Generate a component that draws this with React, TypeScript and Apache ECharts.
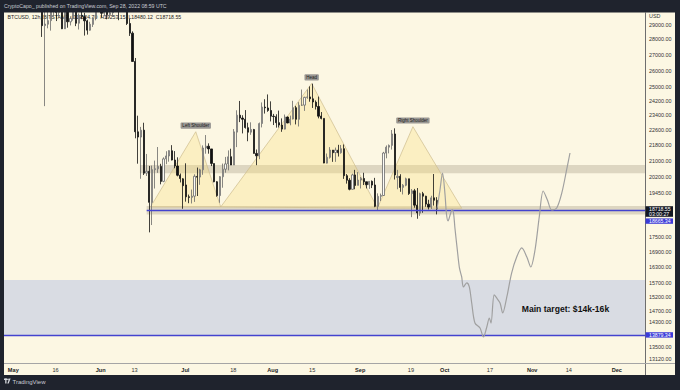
import { useEffect, useRef } from 'react';
import * as echarts from 'echarts';

// ---------- DATA ----------
const candleStartDate = '2022-05-09'; // first daily candle, one entry per day after that
const opens = [
  34060, 30273, 31016, 28936, 29031, 29285, 30099, 31304, 29863, 30424, 28720, 30311, 29200, 29432, 30310, 29102, 29653, 29562, 29265, 28622, 29019, 29443, 31723,
  31792, 29795, 30468, 29707, 29835, 29910, 31371, 31151, 30215, 30110, 29084, 28424, 26575, 22485, 22207, 22575, 20386, 20473, 19010, 20553, 20596, 20711, 19989, 21085, 21233, 21497, 21028, 20731, 20281, 20109,
  19820, 19270, 19243, 19298, 20225, 20194, 20547, 21637, 21731, 21590, 20855, 19971, 19325, 20211, 20575, 20834, 21195, 20781, 22467, 23393, 23233, 23163, 22707, 22465, 22607, 21361, 21244, 22933, 23845, 23796, 23652,
  23336, 23308, 22981, 22847, 22631, 23289, 22964, 23180, 23811, 23163, 23949, 23957, 24402, 24430, 24318, 24126, 23881, 23342, 23213, 20872, 21161, 21531, 21401, 21527, 21399, 21601, 20260, 20041, 19615, 20298, 19799,
  20050, 20127, 19970, 19833, 19989, 19818, 18837, 19289, 19328, 21377, 21679, 21771, 22371, 20174, 20227, 19704, 19803, 20113, 19418, 19545, 18891, 18534, 19413, 19297, 18936, 18803, 19222, 19104,
];
const highs = [
  34222, 32596, 32013, 30033, 31083, 30158, 31308, 31304, 30694, 30618, 30430, 30664, 29588, 30425, 30590, 29785, 30157, 29834, 29346, 29201, 29498, 31949, 32249,
  31957, 30682, 30633, 29930, 30134, 31693, 31489, 31253, 30609, 30245, 29401, 28544, 26795, 23363, 22749, 22975, 21334, 20736, 20752, 20998, 21688, 20840, 21163, 21472, 21521, 21784, 21479, 21164, 20364, 20141,
  20865, 19371, 19603, 20325, 20654, 20595, 21771, 22314, 21877, 21590, 20856, 20000, 20240, 20851, 21183, 21514, 21600, 22633, 23666, 24196, 23388, 23676, 22977, 22998, 22642, 21560, 22986, 24110, 24294, 24572, 24173,
  23464, 23442, 23647, 23213, 23427, 23310, 23367, 24203, 23912, 24127, 24860, 24440, 24864, 25047, 25211, 24226, 24447, 23567, 23213, 21355, 21682, 21531, 21659, 21801, 21792, 21820, 20339, 20140, 20357, 20542, 20436,
  20198, 20401, 19970, 20000, 20031, 20155, 19427, 19417, 21439, 21768, 21820, 22582, 22673, 20542, 20331, 19861, 20163, 20113, 19628, 19633, 19675, 19456, 19496, 19317, 19134, 19316, 20340, 19253,
];
const lows = [
  30296, 29944, 28170, 23900, 28751, 28594, 29555, 29251, 29570, 28700, 28708, 28794, 28948, 29275, 28901, 28670, 29384, 28261, 28326, 28590, 28843, 29303, 31286,
  29501, 29594, 29375, 29500, 29535, 29895, 29311, 29944, 30020, 28978, 28236, 26560, 22141, 20846, 20111, 20292, 20246, 17708, 18019, 19651, 20397, 19848, 19949, 20823, 20945, 21009, 20621, 20228, 19937, 18729,
  19048, 18978, 18966, 19038, 19305, 19825, 20303, 21346, 21347, 20727, 19946, 19273, 18999, 19689, 20405, 20518, 20778, 20781, 21683, 23009, 22400, 22657, 21988, 22326, 21350, 20772, 21070, 22722, 23481, 23580, 23047,
  22850, 22709, 22716, 22485, 22612, 22950, 22837, 23158, 22884, 22771, 23910, 23630, 24319, 24151, 23798, 23707, 23216, 23161, 20868, 20856, 21101, 20937, 20937, 21203, 21347, 20107, 19882, 19568, 19600, 19617, 19799,
  19653, 19814, 19656, 19634, 19673, 18800, 18644, 19076, 19310, 21113, 21364, 21556, 20076, 19617, 19498, 19377, 19757, 19354, 18360, 18777, 18290, 18415, 18552, 18817, 18696, 18722, 18870, 18480,
];
const closes = [
  30296, 31022, 28936, 29047, 29284, 30101, 31305, 29862, 30425, 28720, 30314, 29200, 29432, 30323, 29098, 29655, 29562, 29267, 28627, 29031, 29468, 31726, 31792,
  29799, 30467, 29704, 29833, 29907, 31371, 31155, 30215, 30112, 29084, 28424, 26575, 22487, 22206, 22572, 20381, 20471, 19017, 20553, 20599, 20710, 19987, 21085, 21232, 21502, 21028, 20735, 20281, 20123, 19784,
  19269, 19242, 19297, 20231, 20190, 20548, 21637, 21731, 21592, 20860, 19970, 19323, 20212, 20569, 20836, 21190, 20779, 22485, 23389, 23231, 23164, 22714, 22465, 22609, 21361, 21239, 22930, 23843, 23804, 23656, 23337,
  23314, 22978, 22846, 22630, 23289, 22961, 23175, 23810, 23164, 23947, 23957, 24402, 24424, 24319, 24136, 23883, 23336, 23213, 20877, 21166, 21534, 21398, 21528, 21396, 21600, 20260, 20042, 19616, 20297, 19796, 20050,
  20127, 19969, 19832, 19986, 19813, 18837, 19290, 19329, 21381, 21680, 21769, 22371, 20297, 20226, 19702, 19804, 20113, 19417, 19544, 18890, 18547, 19413, 19297, 18937, 18803, 19222, 19110, 18719,
];

// hand-drawn projection (days after 1 May 2022, price)
const projectionDays = [150.25, 151.3, 152.2, 153.1, 153.6, 154.15, 155.0, 155.6, 156.1, 156.6, 157.45, 158.2, 159.0, 159.6, 160.8, 161.7, 162.55, 163.7, 165.5, 166.7, 167.9, 168.8, 169.4, 170.5, 171.4, 172.6, 173.55, 175.0, 176.7, 178.5, 180.3, 182.1, 183.5, 185.0, 186.5, 187.9, 189.4, 190.9, 192.7, 194.5, 196.2, 197.4];
const projectionPrices = [18720, 19584, 20390, 19352, 18499, 18192, 18499, 18697, 18543, 17893, 16982, 16272, 15927, 15555, 15704, 15555, 14973, 14277, 14111, 13813, 14143, 14448, 14277, 15263, 15153, 14973, 14622, 15188, 16078, 16701, 17064, 16701, 16310, 16982, 18366, 19537, 19123, 18676, 18763, 19445, 20538, 21382];

// head & shoulders triangles: [left base, apex, right base]
const patternLabels = ['Left Shoulder', 'Head', 'Right Shoulder'];
const patternDays = [[48.65, 64.7, 73.55], [73.55, 105.8, 129.15], [129.15, 141.7, 159.0]];
const patternPrices = [[18810, 22490, 18810], [18810, 25220, 18760], [18760, 22760, 18750]];

// horizontal zones and levels
const resistanceZone = [20375, 20780];
const necklineZone = [18476, 18853];
const targetZone = [13879.34, 15815];
const necklineLevel = 18665.34;
const targetLevel = 13879.34;
const lastPrice = 18718.55;
const lastCountdown = '03:00:27';

// axis ticks
const yTickValues = [29000, 28000, 27000, 26000, 25000, 24200, 23400, 22600, 21800, 21000, 20200, 19450, 17500, 16900, 16300, 15700, 15200, 14700, 14300, 13500, 13120];
const xTickDates = ['2022-05-01', '2022-05-16', '2022-06-01', '2022-06-13', '2022-07-01', '2022-07-18', '2022-08-01', '2022-08-15', '2022-09-01', '2022-09-19', '2022-10-01', '2022-10-17', '2022-11-01', '2022-11-14', '2022-12-01'];
const xTickLabels = ['May', '16', 'Jun', '13', 'Jul', '18', 'Aug', '15', 'Sep', '19', 'Oct', '17', 'Nov', '14', 'Dec'];

const headerText = 'CryptoCapo_ published on TradingView.com, Sep 28, 2022 08:59 UTC';
const symbolText = 'BTCUSD, 12h, BITSTAMP  O19104.70  H19253.15  L18480.12  C18718.55';
const targetText = 'Main target: $14k-16k';
const targetTextAt = { day: 180.3, price: 14750 };

// ---------- HELPERS ----------
const DAY0 = Date.UTC(2022, 4, 1);
const dayOf = (s: string) => (Date.parse(s + 'T00:00:00Z') - DAY0) / 86400000;
const L = Math.log;
const FONT = 'Liberation Sans, Arial, sans-serif';
const X_MIN = -3.3;
const X_MAX = 224;
const Y_MIN = 12984;
const Y_MAX = 29888;
const DARK = '#1f232d';
const CREAM = '#fcf7e3';

export default function App() {
  const ref = useRef<HTMLDivElement>(null);
  useEffect(() => {
    const chart = echarts.init(ref.current!, null, { renderer: 'svg' });
    const start = dayOf(candleStartDate);
    const candles = opens.map((o, i) => [start + i + 0.25, L(o), L(closes[i]), L(lows[i]), L(highs[i])]);
    const projection = projectionDays.map((d, i) => [d, L(projectionPrices[i])]);
    const patterns = patternDays.map((ds, i) => [ds[0], L(patternPrices[i][0]), ds[1], L(patternPrices[i][1]), ds[2], L(patternPrices[i][2])]);
    const xTickVals = xTickDates.map(dayOf);

    const zoneColor = 'rgba(150,140,115,0.3)';
    const option: any = {
      animation: false,
      backgroundColor: CREAM,
      textStyle: { fontFamily: FONT },
      grid: { left: 4, right: 35, top: 12, bottom: 27 },
      xAxis: {
        type: 'value', min: X_MIN, max: X_MAX,
        axisLine: { show: false }, axisTick: { show: false }, splitLine: { show: false },
        axisLabel: {
          customValues: xTickVals, margin: 3.5, fontSize: 5.6, color: '#222',
          formatter: (v: number) => {
            const i = xTickVals.findIndex((t) => Math.abs(t - v) < 0.01);
            if (i < 0) return '';
            const t = xTickLabels[i];
            return /^[A-Za-z]/.test(t) ? '{m|' + t + '}' : '{d|' + t + '}';
          },
          rich: {
            m: { fontSize: 5.6, fontWeight: 'bold', color: '#222', fontFamily: FONT },
            d: { fontSize: 5.6, color: '#333', fontFamily: FONT },
          },
        },
      },
      yAxis: {
        type: 'value', position: 'right', min: L(Y_MIN), max: L(Y_MAX),
        axisLine: { show: false }, axisTick: { show: false }, splitLine: { show: false },
        axisLabel: {
          customValues: yTickValues.map(L), margin: 4, fontSize: 5.4, color: '#333',
          formatter: (v: number) => Math.exp(v).toFixed(2),
        },
      },
      series: [
        {
          type: 'line', data: [], z: 1, silent: true,
          markArea: {
            silent: true,
            data: [
              [{ xAxis: X_MIN, yAxis: L(targetZone[0]), itemStyle: { color: '#d9dce3' } }, { xAxis: X_MAX, yAxis: L(targetZone[1]) }],
            ],
          },
        },
        {
          type: 'custom', z: 2, silent: true,
          data: patterns,
          encode: { x: [0, 2, 4], y: [1, 3, 5] },
          renderItem: (params: any, api: any) => {
            const pts = [0, 1, 2].map((k) => api.coord([api.value(k * 2), api.value(k * 2 + 1)]));
            const apex = pts[1];
            return {
              type: 'group',
              children: [
                { type: 'polygon', shape: { points: pts }, style: { fill: 'rgba(248,222,120,0.3)', stroke: '#cdbb8c', lineWidth: 0.7 } },
                {
                  type: 'text', x: apex[0], y: apex[1] - 6.2,
                  style: {
                    text: patternLabels[params.dataIndex], fill: '#1a1a1a', fontSize: 4.5, fontFamily: FONT,
                    align: 'center', verticalAlign: 'middle', backgroundColor: '#9a9894',
                    padding: [0.6, 1.8], borderRadius: 1,
                  },
                },
              ],
            };
          },
        },
        {
          type: 'line', data: [], z: 3, silent: true,
          markArea: {
            silent: true,
            data: [
              [{ xAxis: 44.9, yAxis: L(resistanceZone[0]), itemStyle: { color: zoneColor } }, { xAxis: X_MAX, yAxis: L(resistanceZone[1]) }],
              [{ xAxis: 47.3, yAxis: L(necklineZone[0]), itemStyle: { color: zoneColor } }, { xAxis: X_MAX, yAxis: L(necklineZone[1]) }],
            ],
          },
        },
        {
          type: 'candlestick', z: 4, barWidth: 1.7, clip: true,
          data: candles,
          encode: { x: 0, y: [1, 2, 3, 4] },
          itemStyle: { color: '#fbfbf7', color0: '#111111', borderColor: '#6a6a6a', borderColor0: '#111111', borderWidth: 0.8 },
        },
        {
          type: 'line', data: [], z: 5, silent: true,
          markLine: {
            silent: true, symbol: 'none', label: { show: false },
            lineStyle: { color: '#4343cf', width: 1.3, type: 'solid' },
            data: [
              [{ coord: [47.3, L(necklineLevel)] }, { coord: [X_MAX, L(necklineLevel)] }],
              [{ coord: [X_MIN, L(targetLevel)] }, { coord: [X_MAX, L(targetLevel)] }],
            ],
          },
        },
        {
          type: 'line', z: 6, silent: true, data: projection, symbol: 'none', smooth: 0.3,
          lineStyle: { color: '#a0a0a0', width: 1.2 },
        },
      ],
    };
    chart.setOption(option);

    const yPx = (p: number) => chart.convertToPixel({ yAxisIndex: 0 }, L(p)) as number;
    const xPx = (d: number) => chart.convertToPixel({ xAxisIndex: 0 }, d) as number;
    const lastY = yPx(lastPrice);
    const targY = yPx(targetLevel);
    const tagX = 645.5;
    const tagW = 27.5;
    const txt = (x: number, y: number, text: string, fill: string, fontSize: number, z: number, extra: any = {}) => ({
      type: 'text', x, y, z, silent: true,
      style: { text, fill, fontSize, fontFamily: FONT, verticalAlign: 'middle', ...extra },
    });

    chart.setOption({
      graphic: [
        txt(7.5, 17.3, symbolText, '#222', 5.2, 0),
        { type: 'rect', z: 100, silent: true, shape: { x: 0, y: 0, width: 680, height: 12.5 }, style: { fill: DARK } },
        { type: 'rect', z: 100, silent: true, shape: { x: 0, y: 375, width: 680, height: 15 }, style: { fill: DARK } },
        { type: 'rect', z: 100, silent: true, shape: { x: 0, y: 0, width: 4, height: 390 }, style: { fill: DARK } },
        { type: 'rect', z: 100, silent: true, shape: { x: 675, y: 0, width: 5, height: 390 }, style: { fill: DARK } },
        { type: 'line', z: 90, silent: true, shape: { x1: 645.5, y1: 12.5, x2: 645.5, y2: 375 }, style: { stroke: '#6e6e6e', lineWidth: 1 } },
        { type: 'line', z: 90, silent: true, shape: { x1: 4, y1: 363.5, x2: 675, y2: 363.5 }, style: { stroke: '#a5a5a5', lineWidth: 1 } },
        txt(4, 6.3, headerText, '#c9ccd3', 5.2, 101),
        txt(12.5, 381.7, 'TradingView', '#c9ccd3', 6, 101),
        { type: 'rect', z: 101, silent: true, shape: { x: 4, y: 378.6, width: 3.2, height: 1.4 }, style: { fill: '#d7d9de' } },
        { type: 'rect', z: 101, silent: true, shape: { x: 5.2, y: 378.6, width: 1.3, height: 5 }, style: { fill: '#d7d9de' } },
        { type: 'circle', z: 101, silent: true, shape: { cx: 8, cy: 379.4, r: 0.8 }, style: { fill: '#d7d9de' } },
        { type: 'polygon', z: 101, silent: true, shape: { points: [[7.3, 383.6], [9.2, 378.6], [10.6, 378.6], [8.7, 383.6]] }, style: { fill: '#d7d9de' } },
        txt(649, 16, 'USD', '#333', 5.4, 95),
        { type: 'rect', z: 95, silent: true, shape: { x: tagX, y: lastY - 2.8, width: tagW, height: 10.6 }, style: { fill: '#131722' } },
        txt(649, lastY, lastPrice.toFixed(2), '#ffffff', 5.2, 96),
        txt(649, lastY + 5, lastCountdown, '#ffffff', 5.2, 96),
        { type: 'rect', z: 95, silent: true, shape: { x: tagX, y: lastY + 9.4, width: tagW, height: 5.4 }, style: { fill: '#3b3bd8' } },
        txt(649, lastY + 12.1, necklineLevel.toFixed(2), '#ffffff', 5.2, 96),
        { type: 'rect', z: 95, silent: true, shape: { x: tagX, y: targY - 2.7, width: tagW, height: 5.4 }, style: { fill: '#3b3bd8' } },
        txt(649, targY, targetLevel.toFixed(2), '#ffffff', 5.2, 96),
        txt(xPx(targetTextAt.day), yPx(targetTextAt.price), targetText, '#111111', 8.6, 95, { fontWeight: 'bold' }),
      ],
    });
    return () => chart.dispose();
  }, []);
  return <div ref={ref} style={{ position: 'fixed', left: 0, top: 0, width: 680, height: 390 }} />;
}
